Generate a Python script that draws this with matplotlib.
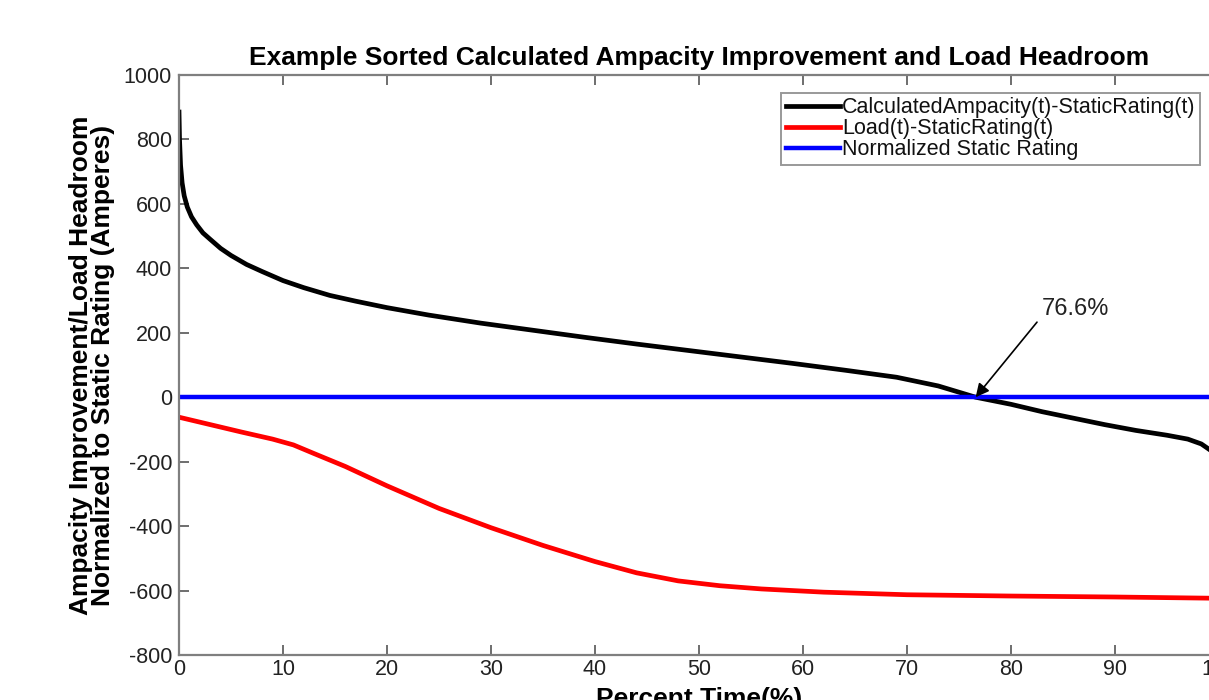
import matplotlib
matplotlib.use("Agg")
import matplotlib.pyplot as plt
import numpy as np

plt.rcParams['font.family'] = ['Liberation Sans', 'DejaVu Sans']
plt.rcParams['axes.unicode_minus'] = False

# Percent time (x) and values
ampacity_x = [0, 0.05, 0.15, 0.3, 0.5, 0.8, 1.2, 1.7, 2.3, 3.0, 4.0, 5.0, 6.5, 8.0, 10, 12, 14.5, 17, 20,
              24, 29, 34, 39, 44, 49, 54, 59, 64, 69, 73, 76.6, 80, 83, 86, 89, 92, 95, 97, 98.3, 99.2, 100]
ampacity_y = [885, 800, 720, 665, 625, 590, 560, 535, 510, 490, 462, 440, 412, 390, 362, 340, 316, 298, 278,
              255, 230, 208, 186, 165, 145, 125, 105, 84, 62, 35, 0, -22, -45, -65, -85, -103, -118, -130,
              -145, -165, -195]

load_x = [0, 3, 6, 9, 11, 13, 16, 20, 25, 30, 35, 40, 44, 48, 52, 56, 62, 70, 80, 90, 100]
load_y = [-62, -85, -108, -130, -148, -175, -215, -275, -345, -405, -460, -510, -545, -570, -585, -595,
          -605, -613, -617, -620, -624]

static_x = [0, 100]
static_y = [0, 0]

cross_x = 76.6
cross_label = "76.6%"

x_ticks = [0, 10, 20, 30, 40, 50, 60, 70, 80, 90, 100]
y_ticks = [-800, -600, -400, -200, 0, 200, 400, 600, 800, 1000]

legend_labels = ["CalculatedAmpacity(t)-StaticRating(t)", "Load(t)-StaticRating(t)",
                 "Normalized Static Rating"]

fig = plt.figure(figsize=(12.09, 7.0), dpi=100)
ax = fig.add_axes([179 / 1209, 1 - 655 / 700, 1040 / 1209, 580 / 700])

ax.plot(ampacity_x, ampacity_y, color='black', lw=3.4, label=legend_labels[0])
ax.plot(load_x, load_y, color='red', lw=3.4, label=legend_labels[1])
ax.plot(static_x, static_y, color='blue', lw=3.2, label=legend_labels[2])

ax.set_xlim(0, 100)
ax.set_ylim(-800, 1000)
ax.set_xticks(x_ticks)
ax.set_yticks(y_ticks)

for s in ax.spines.values():
    s.set_color('#7f7f7f')
    s.set_linewidth(1.6)
ax.tick_params(direction='in', length=7, width=1.2, color='#555555', top=True, right=True,
               labelsize=15.5, labelcolor='#222222', pad=5)
ax.tick_params(axis='x', labelsize=15.5, pad=3)

ax.set_title("Example Sorted Calculated Ampacity Improvement and Load Headroom",
             fontsize=19, fontweight='bold', pad=7)
ax.set_xlabel("Percent Time(%)", fontsize=19, fontweight='bold', labelpad=5)
ax.set_ylabel("Ampacity Improvement/Load Headroom\nNormalized to Static Rating (Amperes)",
              fontsize=19, fontweight='bold', labelpad=6, linespacing=0.9)

ax.annotate('', xy=(cross_x, 0), xytext=(82.5, 233),
            arrowprops=dict(arrowstyle='-|>', color='black', lw=1.2,
                            mutation_scale=20, shrinkA=0, shrinkB=0))
ax.text(83.0, 240, cross_label, fontsize=17, color='#222222', ha='left', va='bottom')

leg = ax.legend(loc='upper right', bbox_to_anchor=(1021 / 1040, 1 - 18 / 580),
                fontsize=15.5, frameon=True, fancybox=False, handlelength=2.5,
                handletextpad=0.12, labelspacing=0.0, borderpad=0.2, borderaxespad=0)
leg.get_frame().set_edgecolor('#7f7f7f')
leg.get_frame().set_linewidth(1.4)
for t in leg.get_texts():
    t.set_color('#111111')

fig.savefig("out.png", dpi=100)
